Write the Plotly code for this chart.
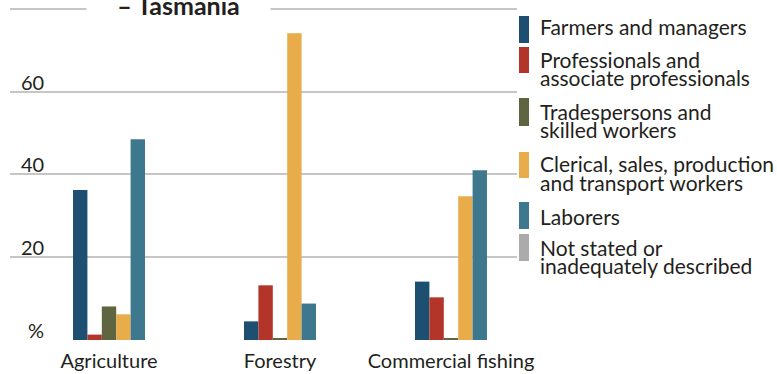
import plotly.graph_objects as go

# ---- data ----
categories = ["Agriculture", "Forestry", "Commercial fishing"]
series_names = [
    "Farmers and managers",
    "Professionals and\nassociate professionals",
    "Tradespersons and\nskilled workers",
    "Clerical, sales, production\nand transport workers",
    "Laborers",
    "Not stated or\ninadequately described",
]
farmers = [36.2, 4.5, 14.1]
professionals = [1.3, 13.2, 10.3]
tradespersons = [8.1, 0.3, 0.3]
clerical = [6.2, 74.1, 34.7]
laborers = [48.5, 8.8, 41.0]
not_stated = [0, 0, 0]
y_tick_vals = [0, 20, 40, 60, 80]
y_tick_labels = ["%", "20", "40", "60", ""]
title_text = "– Tasmania"

colors = ["#1d4f71", "#b3352a", "#5f6441", "#e8ac4b", "#3e788f", "#ababab"]
series_values = [farmers, professionals, tradespersons, clerical, laborers, not_stated]

FONT = "Lato"
TXT = "#231f20"

W, H = 777, 374
ML, MR, MT, MB = 10, 260, 0, 34
PW = W - ML - MR
PH = H - MT - MB


def px_x(x):
    return (x - ML) / PW


def px_y(y):
    return 1 - (y - MT) / PH


fig = go.Figure()
for i, (name, vals) in enumerate(zip(series_names, series_values)):
    fig.add_trace(go.Bar(
        x=categories, y=vals, name=name.replace("\n", " "),
        marker=dict(color=colors[i], line=dict(width=0)),
        offsetgroup=str(min(i, 4)),
        showlegend=False,
    ))

fig.update_layout(
    width=W, height=H,
    margin=dict(l=ML, r=MR, t=MT, b=MB),
    paper_bgcolor="white", plot_bgcolor="white",
    barmode="group", bargap=0.579, bargroupgap=0,
    font=dict(family=FONT, size=20, color=TXT),
    xaxis=dict(range=[-0.579, 2.386], showgrid=False, zeroline=False,
               showline=False, ticks="", tickfont=dict(size=20, color=TXT),
               ticklabelstandoff=7, automargin=False),
    yaxis=dict(range=[0, 82.1], tickvals=y_tick_vals, showticklabels=False,
               showgrid=True, gridcolor="#c6c6c6", gridwidth=2,
               zeroline=False, showline=False, ticks="", automargin=False),
)

# y tick labels above gridlines
for v, lab in zip(y_tick_vals, y_tick_labels):
    if lab:
        fig.add_annotation(x=px_x(46), xref="paper", xanchor="right",
                           y=v, yref="y", yanchor="bottom", yshift=-4,
                           text=lab, showarrow=False,
                           font=dict(size=20, color=TXT))

# title overlapping top gridline (partly cut off at the top, as in the source)
fig.add_annotation(x=px_x(178.5), xref="paper", xanchor="center",
                   y=80, yref="y", yanchor="middle", yshift=4,
                   text="<b>" + title_text + "</b>", showarrow=False,
                   width=181, bgcolor="white", borderpad=1,
                   font=dict(size=25, color=TXT))

# manual legend
rect_tops = [16, 47, 98, 152, 202, 234]
rect_bots = [43, 73, 126, 178, 229, 261]
first_baselines = [33.3, 66.7, 118.3, 170.7, 223.3, 254]
line_gap = 18.3
for i, name in enumerate(series_names):
    fig.add_shape(type="rect", xref="paper", yref="paper",
                  x0=px_x(519), x1=px_x(529),
                  y0=px_y(rect_bots[i]), y1=px_y(rect_tops[i]),
                  fillcolor=colors[i], line=dict(width=0))
    for j, line in enumerate(name.split("\n")):
        base = first_baselines[i] + j * line_gap
        fig.add_annotation(x=px_x(538), xref="paper", xanchor="left",
                           y=px_y(base - 7), yref="paper", yanchor="middle",
                           text=line, showarrow=False,
                           font=dict(size=21, color=TXT))

fig.write_html("out.html",
               config={"displayModeBar": False},
               post_script="document.body.style.margin='0';document.body.style.overflow='hidden';")
